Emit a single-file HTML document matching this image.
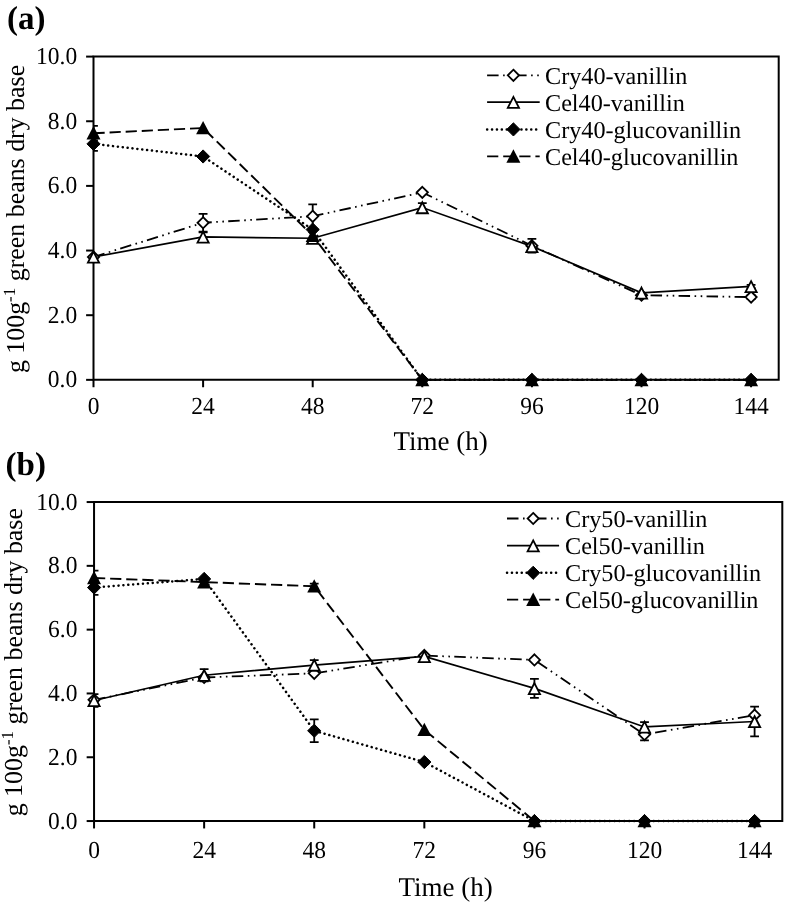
<!DOCTYPE html>
<html><head><meta charset="utf-8"><title>Vanillin chart</title>
<style>
html,body{margin:0;padding:0;background:#fff;}
body{width:786px;height:904px;overflow:hidden;}
svg{display:block;filter:grayscale(1);}
text{font-family:"Liberation Serif", serif;fill:#000;text-rendering:geometricPrecision;}
.tl{font-size:23.5px;}
.at{font-size:27px;}
.yt{font-size:25.9px;}
.sup{font-size:17px;}
.lg{font-size:24.2px;}
.pl{font-size:33px;font-weight:bold;}
</style></head>
<body>
<svg width="786" height="904" viewBox="0 0 786 904">
<rect width="786" height="904" fill="#fff"/>
<path d="M93.50 56.60H778.70V379.85H93.50Z" fill="none" stroke="#000" stroke-width="2.0"/>
<line x1="86.10" y1="379.85" x2="93.50" y2="379.85" stroke="#000" stroke-width="2.0"/>
<line x1="86.10" y1="315.20" x2="93.50" y2="315.20" stroke="#000" stroke-width="2.0"/>
<line x1="86.10" y1="250.55" x2="93.50" y2="250.55" stroke="#000" stroke-width="2.0"/>
<line x1="86.10" y1="185.90" x2="93.50" y2="185.90" stroke="#000" stroke-width="2.0"/>
<line x1="86.10" y1="121.25" x2="93.50" y2="121.25" stroke="#000" stroke-width="2.0"/>
<line x1="86.10" y1="56.60" x2="93.50" y2="56.60" stroke="#000" stroke-width="2.0"/>
<line x1="93.50" y1="379.85" x2="93.50" y2="387.25" stroke="#000" stroke-width="2.0"/>
<line x1="203.10" y1="379.85" x2="203.10" y2="387.25" stroke="#000" stroke-width="2.0"/>
<line x1="312.70" y1="379.85" x2="312.70" y2="387.25" stroke="#000" stroke-width="2.0"/>
<line x1="422.30" y1="379.85" x2="422.30" y2="387.25" stroke="#000" stroke-width="2.0"/>
<line x1="531.90" y1="379.85" x2="531.90" y2="387.25" stroke="#000" stroke-width="2.0"/>
<line x1="641.50" y1="379.85" x2="641.50" y2="387.25" stroke="#000" stroke-width="2.0"/>
<line x1="751.10" y1="379.85" x2="751.10" y2="387.25" stroke="#000" stroke-width="2.0"/>
<text transform="translate(77.20 387.25) scale(1 1.04)" text-anchor="end" class="tl">0.0</text>
<text transform="translate(77.20 322.60) scale(1 1.04)" text-anchor="end" class="tl">2.0</text>
<text transform="translate(77.20 257.95) scale(1 1.04)" text-anchor="end" class="tl">4.0</text>
<text transform="translate(77.20 193.30) scale(1 1.04)" text-anchor="end" class="tl">6.0</text>
<text transform="translate(77.20 128.65) scale(1 1.04)" text-anchor="end" class="tl">8.0</text>
<text transform="translate(77.20 64.00) scale(1 1.04)" text-anchor="end" class="tl">10.0</text>
<text transform="translate(93.50 413.60) scale(1 1.04)" text-anchor="middle" class="tl">0</text>
<text transform="translate(203.10 413.60) scale(1 1.04)" text-anchor="middle" class="tl">24</text>
<text transform="translate(312.70 413.60) scale(1 1.04)" text-anchor="middle" class="tl">48</text>
<text transform="translate(422.30 413.60) scale(1 1.04)" text-anchor="middle" class="tl">72</text>
<text transform="translate(531.90 413.60) scale(1 1.04)" text-anchor="middle" class="tl">96</text>
<text transform="translate(641.50 413.60) scale(1 1.04)" text-anchor="middle" class="tl">120</text>
<text transform="translate(751.10 413.60) scale(1 1.04)" text-anchor="middle" class="tl">144</text>
<text x="440.70" y="450.00" text-anchor="middle" class="at">Time (h)</text>
<text transform="translate(23.70 219.00) rotate(-90)" text-anchor="middle" class="yt">g 100g<tspan class="sup" dy="-8.5">-1</tspan><tspan dy="8.5"> green beans dry base</tspan></text>
<text x="7.00" y="28.90" class="pl">(a)</text>
<clipPath id="clipa"><rect x="93.50" y="36.60" width="705.20" height="363.25"/></clipPath>
<polyline points="93.50,257.01 203.10,222.75 312.70,216.29 422.30,192.37 531.90,245.70 641.50,295.16 751.10,297.10" fill="none" stroke="#000" stroke-width="1.8" stroke-dasharray="11.5 4.5 1.6 4.5 1.6 4.3"/>
<polyline points="93.50,257.01 203.10,236.97 312.70,238.27 422.30,207.56 531.90,246.35 641.50,292.90 751.10,286.43" fill="none" stroke="#000" stroke-width="1.7" />
<polyline points="93.50,143.88 203.10,156.48 312.70,229.54 422.30,379.85 531.90,379.85 641.50,379.85 751.10,379.85" fill="none" stroke="#000" stroke-width="2.5" stroke-dasharray="0.1 4.8" stroke-linecap="round"/>
<polyline points="93.50,133.21 203.10,128.04 312.70,235.68 422.30,379.85 531.90,379.85 641.50,379.85 751.10,379.85" fill="none" stroke="#000" stroke-width="1.9" stroke-dasharray="11.2 4.9"/>
<g clip-path="url(#clipa)" stroke="#000" stroke-width="1.8"><line x1="203.10" y1="213.85" x2="203.10" y2="231.65"/><line x1="198.70" y1="213.85" x2="207.50" y2="213.85"/><line x1="198.70" y1="231.65" x2="207.50" y2="231.65"/></g>
<g clip-path="url(#clipa)" stroke="#000" stroke-width="1.8"><line x1="312.70" y1="204.29" x2="312.70" y2="228.29"/><line x1="308.30" y1="204.29" x2="317.10" y2="204.29"/><line x1="308.30" y1="228.29" x2="317.10" y2="228.29"/></g>
<g clip-path="url(#clipa)" stroke="#000" stroke-width="1.8"><line x1="531.90" y1="238.90" x2="531.90" y2="252.50"/><line x1="527.50" y1="238.90" x2="536.30" y2="238.90"/><line x1="527.50" y1="252.50" x2="536.30" y2="252.50"/></g>
<g clip-path="url(#clipa)" stroke="#000" stroke-width="1.8"><line x1="751.10" y1="295.20" x2="751.10" y2="299.00"/><line x1="746.70" y1="295.20" x2="755.50" y2="295.20"/><line x1="746.70" y1="299.00" x2="755.50" y2="299.00"/></g>
<g clip-path="url(#clipa)" stroke="#000" stroke-width="1.8"><line x1="203.10" y1="232.37" x2="203.10" y2="241.57"/><line x1="198.70" y1="232.37" x2="207.50" y2="232.37"/><line x1="198.70" y1="241.57" x2="207.50" y2="241.57"/></g>
<g clip-path="url(#clipa)" stroke="#000" stroke-width="1.8"><line x1="422.30" y1="203.06" x2="422.30" y2="212.06"/><line x1="417.90" y1="203.06" x2="426.70" y2="203.06"/><line x1="417.90" y1="212.06" x2="426.70" y2="212.06"/></g>
<g clip-path="url(#clipa)" stroke="#000" stroke-width="1.8"><line x1="751.10" y1="284.83" x2="751.10" y2="288.03"/><line x1="746.70" y1="284.83" x2="755.50" y2="284.83"/><line x1="746.70" y1="288.03" x2="755.50" y2="288.03"/></g>
<g clip-path="url(#clipa)" stroke="#000" stroke-width="1.8"><line x1="93.50" y1="136.88" x2="93.50" y2="150.88"/><line x1="89.10" y1="136.88" x2="97.90" y2="136.88"/><line x1="89.10" y1="150.88" x2="97.90" y2="150.88"/></g>
<g clip-path="url(#clipa)" stroke="#000" stroke-width="1.8"><line x1="93.50" y1="125.91" x2="93.50" y2="140.51"/><line x1="89.10" y1="125.91" x2="97.90" y2="125.91"/><line x1="89.10" y1="140.51" x2="97.90" y2="140.51"/></g>
<path d="M93.50 251.41L99.10 257.01L93.50 262.62L87.90 257.01Z" fill="#fff" stroke="#000" stroke-width="1.8"/>
<path d="M203.10 217.15L208.70 222.75L203.10 228.35L197.50 222.75Z" fill="#fff" stroke="#000" stroke-width="1.8"/>
<path d="M312.70 210.69L318.30 216.29L312.70 221.89L307.10 216.29Z" fill="#fff" stroke="#000" stroke-width="1.8"/>
<path d="M422.30 186.77L427.90 192.37L422.30 197.97L416.70 192.37Z" fill="#fff" stroke="#000" stroke-width="1.8"/>
<path d="M531.90 240.10L537.50 245.70L531.90 251.30L526.30 245.70Z" fill="#fff" stroke="#000" stroke-width="1.8"/>
<path d="M641.50 289.56L647.10 295.16L641.50 300.76L635.90 295.16Z" fill="#fff" stroke="#000" stroke-width="1.8"/>
<path d="M751.10 291.50L756.70 297.10L751.10 302.70L745.50 297.10Z" fill="#fff" stroke="#000" stroke-width="1.8"/>
<path d="M93.50 251.71L99.10 262.71L87.90 262.71Z" fill="#fff" stroke="#000" stroke-width="1.8" stroke-linejoin="miter"/>
<path d="M203.10 231.67L208.70 242.67L197.50 242.67Z" fill="#fff" stroke="#000" stroke-width="1.8" stroke-linejoin="miter"/>
<path d="M312.70 232.97L318.30 243.97L307.10 243.97Z" fill="#fff" stroke="#000" stroke-width="1.8" stroke-linejoin="miter"/>
<path d="M422.30 202.26L427.90 213.26L416.70 213.26Z" fill="#fff" stroke="#000" stroke-width="1.8" stroke-linejoin="miter"/>
<path d="M531.90 241.05L537.50 252.05L526.30 252.05Z" fill="#fff" stroke="#000" stroke-width="1.8" stroke-linejoin="miter"/>
<path d="M641.50 287.60L647.10 298.60L635.90 298.60Z" fill="#fff" stroke="#000" stroke-width="1.8" stroke-linejoin="miter"/>
<path d="M751.10 281.13L756.70 292.13L745.50 292.13Z" fill="#fff" stroke="#000" stroke-width="1.8" stroke-linejoin="miter"/>
<path d="M93.50 137.28L100.10 143.88L93.50 150.48L86.90 143.88Z" fill="#000" stroke="#000" stroke-width="1"/>
<path d="M203.10 149.88L209.70 156.48L203.10 163.08L196.50 156.48Z" fill="#000" stroke="#000" stroke-width="1"/>
<path d="M312.70 222.94L319.30 229.54L312.70 236.14L306.10 229.54Z" fill="#000" stroke="#000" stroke-width="1"/>
<path d="M422.30 373.25L428.90 379.85L422.30 386.45L415.70 379.85Z" fill="#000" stroke="#000" stroke-width="1"/>
<path d="M531.90 373.25L538.50 379.85L531.90 386.45L525.30 379.85Z" fill="#000" stroke="#000" stroke-width="1"/>
<path d="M641.50 373.25L648.10 379.85L641.50 386.45L634.90 379.85Z" fill="#000" stroke="#000" stroke-width="1"/>
<path d="M751.10 373.25L757.70 379.85L751.10 386.45L744.50 379.85Z" fill="#000" stroke="#000" stroke-width="1"/>
<path d="M93.50 126.11L100.50 139.51L86.50 139.51Z" fill="#000"/>
<path d="M203.10 120.94L210.10 134.34L196.10 134.34Z" fill="#000"/>
<path d="M312.70 228.58L319.70 241.98L305.70 241.98Z" fill="#000"/>
<path d="M422.30 372.75L429.30 386.15L415.30 386.15Z" fill="#000"/>
<path d="M531.90 372.75L538.90 386.15L524.90 386.15Z" fill="#000"/>
<path d="M641.50 372.75L648.50 386.15L634.50 386.15Z" fill="#000"/>
<path d="M751.10 372.75L758.10 386.15L744.10 386.15Z" fill="#000"/>
<line x1="487.10" y1="75.30" x2="539.70" y2="75.30" stroke="#000" stroke-width="1.8" stroke-dasharray="11.5 4.5 1.6 4.5 1.6 4.3"/>
<path d="M513.40 69.70L519.00 75.30L513.40 80.90L507.80 75.30Z" fill="#fff" stroke="#000" stroke-width="1.8"/>
<text x="545.00" y="83.60" class="lg">Cry40-vanillin</text>
<line x1="487.10" y1="102.20" x2="539.70" y2="102.20" stroke="#000" stroke-width="1.7" />
<path d="M513.40 96.90L519.00 107.90L507.80 107.90Z" fill="#fff" stroke="#000" stroke-width="1.8" stroke-linejoin="miter"/>
<text x="545.00" y="110.50" class="lg">Cel40-vanillin</text>
<line x1="487.10" y1="129.40" x2="539.70" y2="129.40" stroke="#000" stroke-width="2.5" stroke-dasharray="0.1 4.8" stroke-linecap="round"/>
<path d="M513.40 122.80L520.00 129.40L513.40 136.00L506.80 129.40Z" fill="#000" stroke="#000" stroke-width="1"/>
<text x="545.00" y="137.70" class="lg">Cry40-glucovanillin</text>
<line x1="487.10" y1="156.40" x2="539.70" y2="156.40" stroke="#000" stroke-width="1.9" stroke-dasharray="11.2 4.9"/>
<path d="M513.40 149.30L520.40 162.70L506.40 162.70Z" fill="#000"/>
<text x="545.00" y="164.70" class="lg">Cel40-glucovanillin</text>
<path d="M94.05 502.05H782.30V821.05H94.05Z" fill="none" stroke="#000" stroke-width="2.0"/>
<line x1="86.65" y1="821.05" x2="94.05" y2="821.05" stroke="#000" stroke-width="2.0"/>
<line x1="86.65" y1="757.25" x2="94.05" y2="757.25" stroke="#000" stroke-width="2.0"/>
<line x1="86.65" y1="693.45" x2="94.05" y2="693.45" stroke="#000" stroke-width="2.0"/>
<line x1="86.65" y1="629.65" x2="94.05" y2="629.65" stroke="#000" stroke-width="2.0"/>
<line x1="86.65" y1="565.85" x2="94.05" y2="565.85" stroke="#000" stroke-width="2.0"/>
<line x1="86.65" y1="502.05" x2="94.05" y2="502.05" stroke="#000" stroke-width="2.0"/>
<line x1="94.05" y1="821.05" x2="94.05" y2="828.45" stroke="#000" stroke-width="2.0"/>
<line x1="204.14" y1="821.05" x2="204.14" y2="828.45" stroke="#000" stroke-width="2.0"/>
<line x1="314.23" y1="821.05" x2="314.23" y2="828.45" stroke="#000" stroke-width="2.0"/>
<line x1="424.33" y1="821.05" x2="424.33" y2="828.45" stroke="#000" stroke-width="2.0"/>
<line x1="534.42" y1="821.05" x2="534.42" y2="828.45" stroke="#000" stroke-width="2.0"/>
<line x1="644.51" y1="821.05" x2="644.51" y2="828.45" stroke="#000" stroke-width="2.0"/>
<line x1="754.60" y1="821.05" x2="754.60" y2="828.45" stroke="#000" stroke-width="2.0"/>
<text transform="translate(77.40 828.55) scale(1 1.04)" text-anchor="end" class="tl">0.0</text>
<text transform="translate(77.40 764.75) scale(1 1.04)" text-anchor="end" class="tl">2.0</text>
<text transform="translate(77.40 700.95) scale(1 1.04)" text-anchor="end" class="tl">4.0</text>
<text transform="translate(77.40 637.15) scale(1 1.04)" text-anchor="end" class="tl">6.0</text>
<text transform="translate(77.40 573.35) scale(1 1.04)" text-anchor="end" class="tl">8.0</text>
<text transform="translate(77.40 509.55) scale(1 1.04)" text-anchor="end" class="tl">10.0</text>
<text transform="translate(94.05 857.80) scale(1 1.04)" text-anchor="middle" class="tl">0</text>
<text transform="translate(204.14 857.80) scale(1 1.04)" text-anchor="middle" class="tl">24</text>
<text transform="translate(314.23 857.80) scale(1 1.04)" text-anchor="middle" class="tl">48</text>
<text transform="translate(424.33 857.80) scale(1 1.04)" text-anchor="middle" class="tl">72</text>
<text transform="translate(534.42 857.80) scale(1 1.04)" text-anchor="middle" class="tl">96</text>
<text transform="translate(644.51 857.80) scale(1 1.04)" text-anchor="middle" class="tl">120</text>
<text transform="translate(754.60 857.80) scale(1 1.04)" text-anchor="middle" class="tl">144</text>
<text x="445.60" y="895.60" text-anchor="middle" class="at">Time (h)</text>
<text transform="translate(21.90 662.20) rotate(-90)" text-anchor="middle" class="yt">g 100g<tspan class="sup" dy="-8.5">-1</tspan><tspan dy="8.5"> green beans dry base</tspan></text>
<text x="5.60" y="475.10" class="pl">(b)</text>
<clipPath id="clipb"><rect x="94.05" y="482.05" width="708.25" height="359.00"/></clipPath>
<polyline points="94.05,699.83 204.14,677.50 314.23,673.35 424.33,655.49 534.42,659.95 644.51,734.60 754.60,715.14" fill="none" stroke="#000" stroke-width="1.8" stroke-dasharray="11.5 4.5 1.6 4.5 1.6 4.3"/>
<polyline points="94.05,700.47 204.14,675.27 314.23,665.06 424.33,656.45 534.42,688.35 644.51,726.94 754.60,721.52" fill="none" stroke="#000" stroke-width="1.7" />
<polyline points="94.05,587.54 204.14,578.93 314.23,730.77 424.33,762.03 534.42,821.05 644.51,821.05 754.60,821.05" fill="none" stroke="#000" stroke-width="2.5" stroke-dasharray="0.1 4.8" stroke-linecap="round"/>
<polyline points="94.05,577.97 204.14,582.12 314.23,586.27 424.33,729.82 534.42,821.05 644.51,821.05 754.60,821.05" fill="none" stroke="#000" stroke-width="1.9" stroke-dasharray="11.2 4.9"/>
<g clip-path="url(#clipb)" stroke="#000" stroke-width="1.8"><line x1="644.51" y1="728.80" x2="644.51" y2="740.40"/><line x1="640.11" y1="728.80" x2="648.91" y2="728.80"/><line x1="640.11" y1="740.40" x2="648.91" y2="740.40"/></g>
<g clip-path="url(#clipb)" stroke="#000" stroke-width="1.8"><line x1="94.05" y1="694.07" x2="94.05" y2="706.87"/><line x1="89.65" y1="694.07" x2="98.45" y2="694.07"/><line x1="89.65" y1="706.87" x2="98.45" y2="706.87"/></g>
<g clip-path="url(#clipb)" stroke="#000" stroke-width="1.8"><line x1="204.14" y1="669.17" x2="204.14" y2="681.37"/><line x1="199.74" y1="669.17" x2="208.54" y2="669.17"/><line x1="199.74" y1="681.37" x2="208.54" y2="681.37"/></g>
<g clip-path="url(#clipb)" stroke="#000" stroke-width="1.8"><line x1="314.23" y1="660.16" x2="314.23" y2="669.96"/><line x1="309.83" y1="660.16" x2="318.63" y2="660.16"/><line x1="309.83" y1="669.96" x2="318.63" y2="669.96"/></g>
<g clip-path="url(#clipb)" stroke="#000" stroke-width="1.8"><line x1="534.42" y1="678.85" x2="534.42" y2="697.85"/><line x1="530.02" y1="678.85" x2="538.82" y2="678.85"/><line x1="530.02" y1="697.85" x2="538.82" y2="697.85"/></g>
<g clip-path="url(#clipb)" stroke="#000" stroke-width="1.8"><line x1="644.51" y1="722.14" x2="644.51" y2="731.74"/><line x1="640.11" y1="722.14" x2="648.91" y2="722.14"/><line x1="640.11" y1="731.74" x2="648.91" y2="731.74"/></g>
<g clip-path="url(#clipb)" stroke="#000" stroke-width="1.8"><line x1="754.60" y1="706.72" x2="754.60" y2="736.32"/><line x1="750.20" y1="706.72" x2="759.00" y2="706.72"/><line x1="750.20" y1="736.32" x2="759.00" y2="736.32"/></g>
<g clip-path="url(#clipb)" stroke="#000" stroke-width="1.8"><line x1="94.05" y1="580.14" x2="94.05" y2="594.94"/><line x1="89.65" y1="580.14" x2="98.45" y2="580.14"/><line x1="89.65" y1="594.94" x2="98.45" y2="594.94"/></g>
<g clip-path="url(#clipb)" stroke="#000" stroke-width="1.8"><line x1="314.23" y1="719.37" x2="314.23" y2="742.17"/><line x1="309.83" y1="719.37" x2="318.63" y2="719.37"/><line x1="309.83" y1="742.17" x2="318.63" y2="742.17"/></g>
<g clip-path="url(#clipb)" stroke="#000" stroke-width="1.8"><line x1="94.05" y1="570.57" x2="94.05" y2="585.37"/><line x1="89.65" y1="570.57" x2="98.45" y2="570.57"/><line x1="89.65" y1="585.37" x2="98.45" y2="585.37"/></g>
<g clip-path="url(#clipb)" stroke="#000" stroke-width="1.8"><line x1="314.23" y1="583.67" x2="314.23" y2="588.87"/><line x1="309.83" y1="583.67" x2="318.63" y2="583.67"/><line x1="309.83" y1="588.87" x2="318.63" y2="588.87"/></g>
<path d="M94.05 694.23L99.65 699.83L94.05 705.43L88.45 699.83Z" fill="#fff" stroke="#000" stroke-width="1.8"/>
<path d="M204.14 671.90L209.74 677.50L204.14 683.10L198.54 677.50Z" fill="#fff" stroke="#000" stroke-width="1.8"/>
<path d="M314.23 667.75L319.83 673.35L314.23 678.95L308.63 673.35Z" fill="#fff" stroke="#000" stroke-width="1.8"/>
<path d="M424.33 649.89L429.93 655.49L424.33 661.09L418.73 655.49Z" fill="#fff" stroke="#000" stroke-width="1.8"/>
<path d="M534.42 654.35L540.02 659.95L534.42 665.55L528.82 659.95Z" fill="#fff" stroke="#000" stroke-width="1.8"/>
<path d="M644.51 729.00L650.11 734.60L644.51 740.20L638.91 734.60Z" fill="#fff" stroke="#000" stroke-width="1.8"/>
<path d="M754.60 709.54L760.20 715.14L754.60 720.74L749.00 715.14Z" fill="#fff" stroke="#000" stroke-width="1.8"/>
<path d="M94.05 695.17L99.65 706.17L88.45 706.17Z" fill="#fff" stroke="#000" stroke-width="1.8" stroke-linejoin="miter"/>
<path d="M204.14 669.97L209.74 680.97L198.54 680.97Z" fill="#fff" stroke="#000" stroke-width="1.8" stroke-linejoin="miter"/>
<path d="M314.23 659.76L319.83 670.76L308.63 670.76Z" fill="#fff" stroke="#000" stroke-width="1.8" stroke-linejoin="miter"/>
<path d="M424.33 651.15L429.93 662.15L418.73 662.15Z" fill="#fff" stroke="#000" stroke-width="1.8" stroke-linejoin="miter"/>
<path d="M534.42 683.05L540.02 694.05L528.82 694.05Z" fill="#fff" stroke="#000" stroke-width="1.8" stroke-linejoin="miter"/>
<path d="M644.51 721.64L650.11 732.64L638.91 732.64Z" fill="#fff" stroke="#000" stroke-width="1.8" stroke-linejoin="miter"/>
<path d="M754.60 716.22L760.20 727.22L749.00 727.22Z" fill="#fff" stroke="#000" stroke-width="1.8" stroke-linejoin="miter"/>
<path d="M94.05 580.94L100.65 587.54L94.05 594.14L87.45 587.54Z" fill="#000" stroke="#000" stroke-width="1"/>
<path d="M204.14 572.33L210.74 578.93L204.14 585.53L197.54 578.93Z" fill="#000" stroke="#000" stroke-width="1"/>
<path d="M314.23 724.17L320.83 730.77L314.23 737.37L307.63 730.77Z" fill="#000" stroke="#000" stroke-width="1"/>
<path d="M424.33 755.43L430.93 762.03L424.33 768.63L417.73 762.03Z" fill="#000" stroke="#000" stroke-width="1"/>
<path d="M534.42 814.45L541.02 821.05L534.42 827.65L527.82 821.05Z" fill="#000" stroke="#000" stroke-width="1"/>
<path d="M644.51 814.45L651.11 821.05L644.51 827.65L637.91 821.05Z" fill="#000" stroke="#000" stroke-width="1"/>
<path d="M754.60 814.45L761.20 821.05L754.60 827.65L748.00 821.05Z" fill="#000" stroke="#000" stroke-width="1"/>
<path d="M94.05 570.87L101.05 584.27L87.05 584.27Z" fill="#000"/>
<path d="M204.14 575.02L211.14 588.42L197.14 588.42Z" fill="#000"/>
<path d="M314.23 579.17L321.23 592.57L307.23 592.57Z" fill="#000"/>
<path d="M424.33 722.72L431.33 736.12L417.33 736.12Z" fill="#000"/>
<path d="M534.42 813.95L541.42 827.35L527.42 827.35Z" fill="#000"/>
<path d="M644.51 813.95L651.51 827.35L637.51 827.35Z" fill="#000"/>
<path d="M754.60 813.95L761.60 827.35L747.60 827.35Z" fill="#000"/>
<line x1="507.00" y1="518.50" x2="559.10" y2="518.50" stroke="#000" stroke-width="1.8" stroke-dasharray="11.5 4.5 1.6 4.5 1.6 4.3"/>
<path d="M533.20 512.90L538.80 518.50L533.20 524.10L527.60 518.50Z" fill="#fff" stroke="#000" stroke-width="1.8"/>
<text x="565.00" y="526.80" class="lg">Cry50-vanillin</text>
<line x1="507.00" y1="545.70" x2="559.10" y2="545.70" stroke="#000" stroke-width="1.7" />
<path d="M533.20 540.40L538.80 551.40L527.60 551.40Z" fill="#fff" stroke="#000" stroke-width="1.8" stroke-linejoin="miter"/>
<text x="565.00" y="554.00" class="lg">Cel50-vanillin</text>
<line x1="507.00" y1="572.80" x2="559.10" y2="572.80" stroke="#000" stroke-width="2.5" stroke-dasharray="0.1 4.8" stroke-linecap="round"/>
<path d="M533.20 566.20L539.80 572.80L533.20 579.40L526.60 572.80Z" fill="#000" stroke="#000" stroke-width="1"/>
<text x="565.00" y="581.10" class="lg">Cry50-glucovanillin</text>
<line x1="507.00" y1="599.60" x2="559.10" y2="599.60" stroke="#000" stroke-width="1.9" stroke-dasharray="11.2 4.9"/>
<path d="M533.20 592.50L540.20 605.90L526.20 605.90Z" fill="#000"/>
<text x="565.00" y="607.90" class="lg">Cel50-glucovanillin</text>
</svg>
</body></html>
